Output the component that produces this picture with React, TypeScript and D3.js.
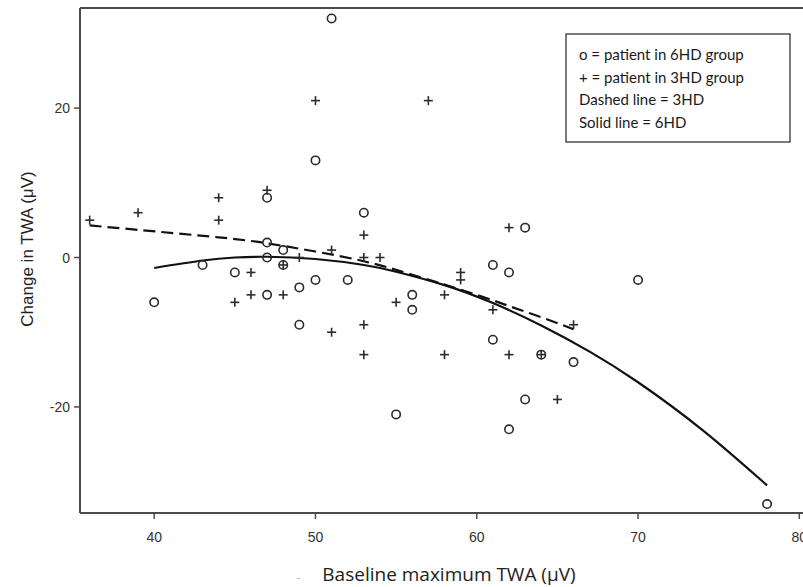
import { scaleLinear, line, curveNatural } from "d3";

// 6HD group (circles)
const SIX_X = [51, 50, 47, 53, 63, 47, 48, 47, 40, 43, 45, 48, 49, 50, 52, 47, 49, 56, 56, 61, 62, 70, 61, 66, 64, 63, 62, 55, 78];
const SIX_Y = [32, 13, 8, 6, 4, 2, 1, 0, -6, -1, -2, -1, -4, -3, -3, -5, -9, -5, -7, -1, -2, -3, -11, -14, -13, -19, -23, -21, -33];

// 3HD group (plus signs)
const THREE_X = [36, 39, 44, 44, 47, 50, 57, 51, 49, 53, 53, 54, 46, 46, 45, 48, 51, 53, 53, 55, 58, 58, 59, 59, 62, 61, 62, 66, 65, 48, 64];
const THREE_Y = [5, 6, 8, 5, 9, 21, 21, 1, 0, 3, 0, 0, -2, -5, -6, -5, -10, -9, -13, -6, -5, -13, -2, -3, 4, -7, -13, -9, -19, -1, -13];

// fitted curves
const DASH_X = [36, 39, 44, 47, 50, 53, 56, 60, 62, 64, 66];
const DASH_Y = [4.3, 3.7, 2.7, 1.9, 0.8, -0.5, -2.3, -5.0, -6.5, -8.0, -9.6];
const SOLID_X = [40, 43, 45, 47, 50, 53, 55, 58, 61, 64, 67, 70, 74, 78];
const SOLID_Y = [-1.4, -0.4, 0, 0.1, -0.2, -1.0, -1.9, -3.7, -6.1, -9.1, -12.6, -16.7, -23.1, -30.5];

const X_TICKS = [40, 50, 60, 70, 80];
const Y_TICKS = [20, 0, -20];

const LEGEND_LINES = [
  "o = patient in 6HD group",
  "+ = patient in 3HD group",
  "Dashed line = 3HD",
  "Solid line = 6HD",
];

const width = 803;
const height = 587;
const left = 80;
const top = 8;
const bottom = 513;

export default function App() {
  const x = scaleLinear().domain([35.4, 80.6]).range([left, 809]);
  const y = scaleLinear().domain([-34.2, 33.4]).range([bottom, top]);

  const path = line<[number, number]>()
    .x((d) => x(d[0]))
    .y((d) => y(d[1]))
    .curve(curveNatural);

  const dashPts = DASH_X.map((v, i) => [v, DASH_Y[i]] as [number, number]);
  const solidPts = SOLID_X.map((v, i) => [v, SOLID_Y[i]] as [number, number]);

  const ink = "#2b2b2b";
  const axisColor = "#4a4a4a";

  return (
    <svg
      width={width}
      height={height}
      style={{ position: "fixed", left: 0, top: 0, background: "#fff" }}
    >
      {/* frame */}
      <line x1={left} y1={top} x2={width + 10} y2={top} stroke={axisColor} strokeWidth={2} />
      <line x1={left} y1={top} x2={left} y2={bottom} stroke={axisColor} strokeWidth={2} />
      <line x1={left} y1={bottom} x2={width + 10} y2={bottom} stroke={axisColor} strokeWidth={2} />

      {/* y ticks */}
      {Y_TICKS.map((t) => (
        <g key={`y${t}`}>
          <line x1={left - 6} x2={left} y1={y(t)} y2={y(t)} stroke={axisColor} strokeWidth={1.5} />
          <text
            x={left - 10}
            y={y(t) + 5}
            textAnchor="end"
            fontFamily="Liberation Sans, Arial, sans-serif"
            fontSize={14}
            fill="#333"
          >
            {t}
          </text>
        </g>
      ))}

      {/* x ticks */}
      {X_TICKS.map((t) => (
        <g key={`x${t}`}>
          <line x1={x(t)} x2={x(t)} y1={bottom} y2={bottom + 6} stroke={axisColor} strokeWidth={1.5} />
          <text
            x={x(t)}
            y={bottom + 29}
            textAnchor="middle"
            fontFamily="Liberation Sans, Arial, sans-serif"
            fontSize={14}
            fill="#333"
          >
            {t}
          </text>
        </g>
      ))}

      {/* axis titles */}
      <text
        transform={`translate(33, 249) rotate(-90)`}
        textAnchor="middle"
        fontFamily="Liberation Sans, Arial, sans-serif"
        fontSize={17}
        fill="#222"
      >
        Change in TWA (μV)
      </text>
      <text
        x={449}
        y={581}
        textAnchor="middle"
        fontFamily="Open Sans, sans-serif"
        fontSize={19}
        fill="#222"
      >
        Baseline maximum TWA (μV)
      </text>
      <text x={297} y={581} fontSize={8} fill="#555" fontFamily="Lato, sans-serif">-</text>

      {/* fitted curves */}
      <path d={path(dashPts) ?? ""} fill="none" stroke="#111" strokeWidth={2.2} strokeDasharray="12 6" />
      <path d={path(solidPts) ?? ""} fill="none" stroke="#111" strokeWidth={2.2} />

      {/* 6HD circles */}
      {SIX_X.map((v, i) => (
        <circle
          key={`c${i}`}
          cx={x(v)}
          cy={y(SIX_Y[i])}
          r={4.2}
          fill="none"
          stroke={ink}
          strokeWidth={1.6}
        />
      ))}

      {/* 3HD plus signs */}
      {THREE_X.map((v, i) => {
        const cx = x(v);
        const cy = y(THREE_Y[i]);
        return (
          <g key={`p${i}`} stroke={ink} strokeWidth={1.6}>
            <line x1={cx - 4.5} x2={cx + 4.5} y1={cy} y2={cy} />
            <line x1={cx} x2={cx} y1={cy - 4.5} y2={cy + 4.5} />
          </g>
        );
      })}

      {/* legend */}
      <rect x={566} y={34} width={224} height={108} fill="#fff" stroke="#222" strokeWidth={1.2} />
      {LEGEND_LINES.map((s, i) => (
        <text
          key={s}
          x={579}
          y={60 + i * 22.7}
          fontFamily="Lato, sans-serif"
          fontSize={15}
          fill="#1a1a1a"
        >
          {s}
        </text>
      ))}
    </svg>
  );
}
